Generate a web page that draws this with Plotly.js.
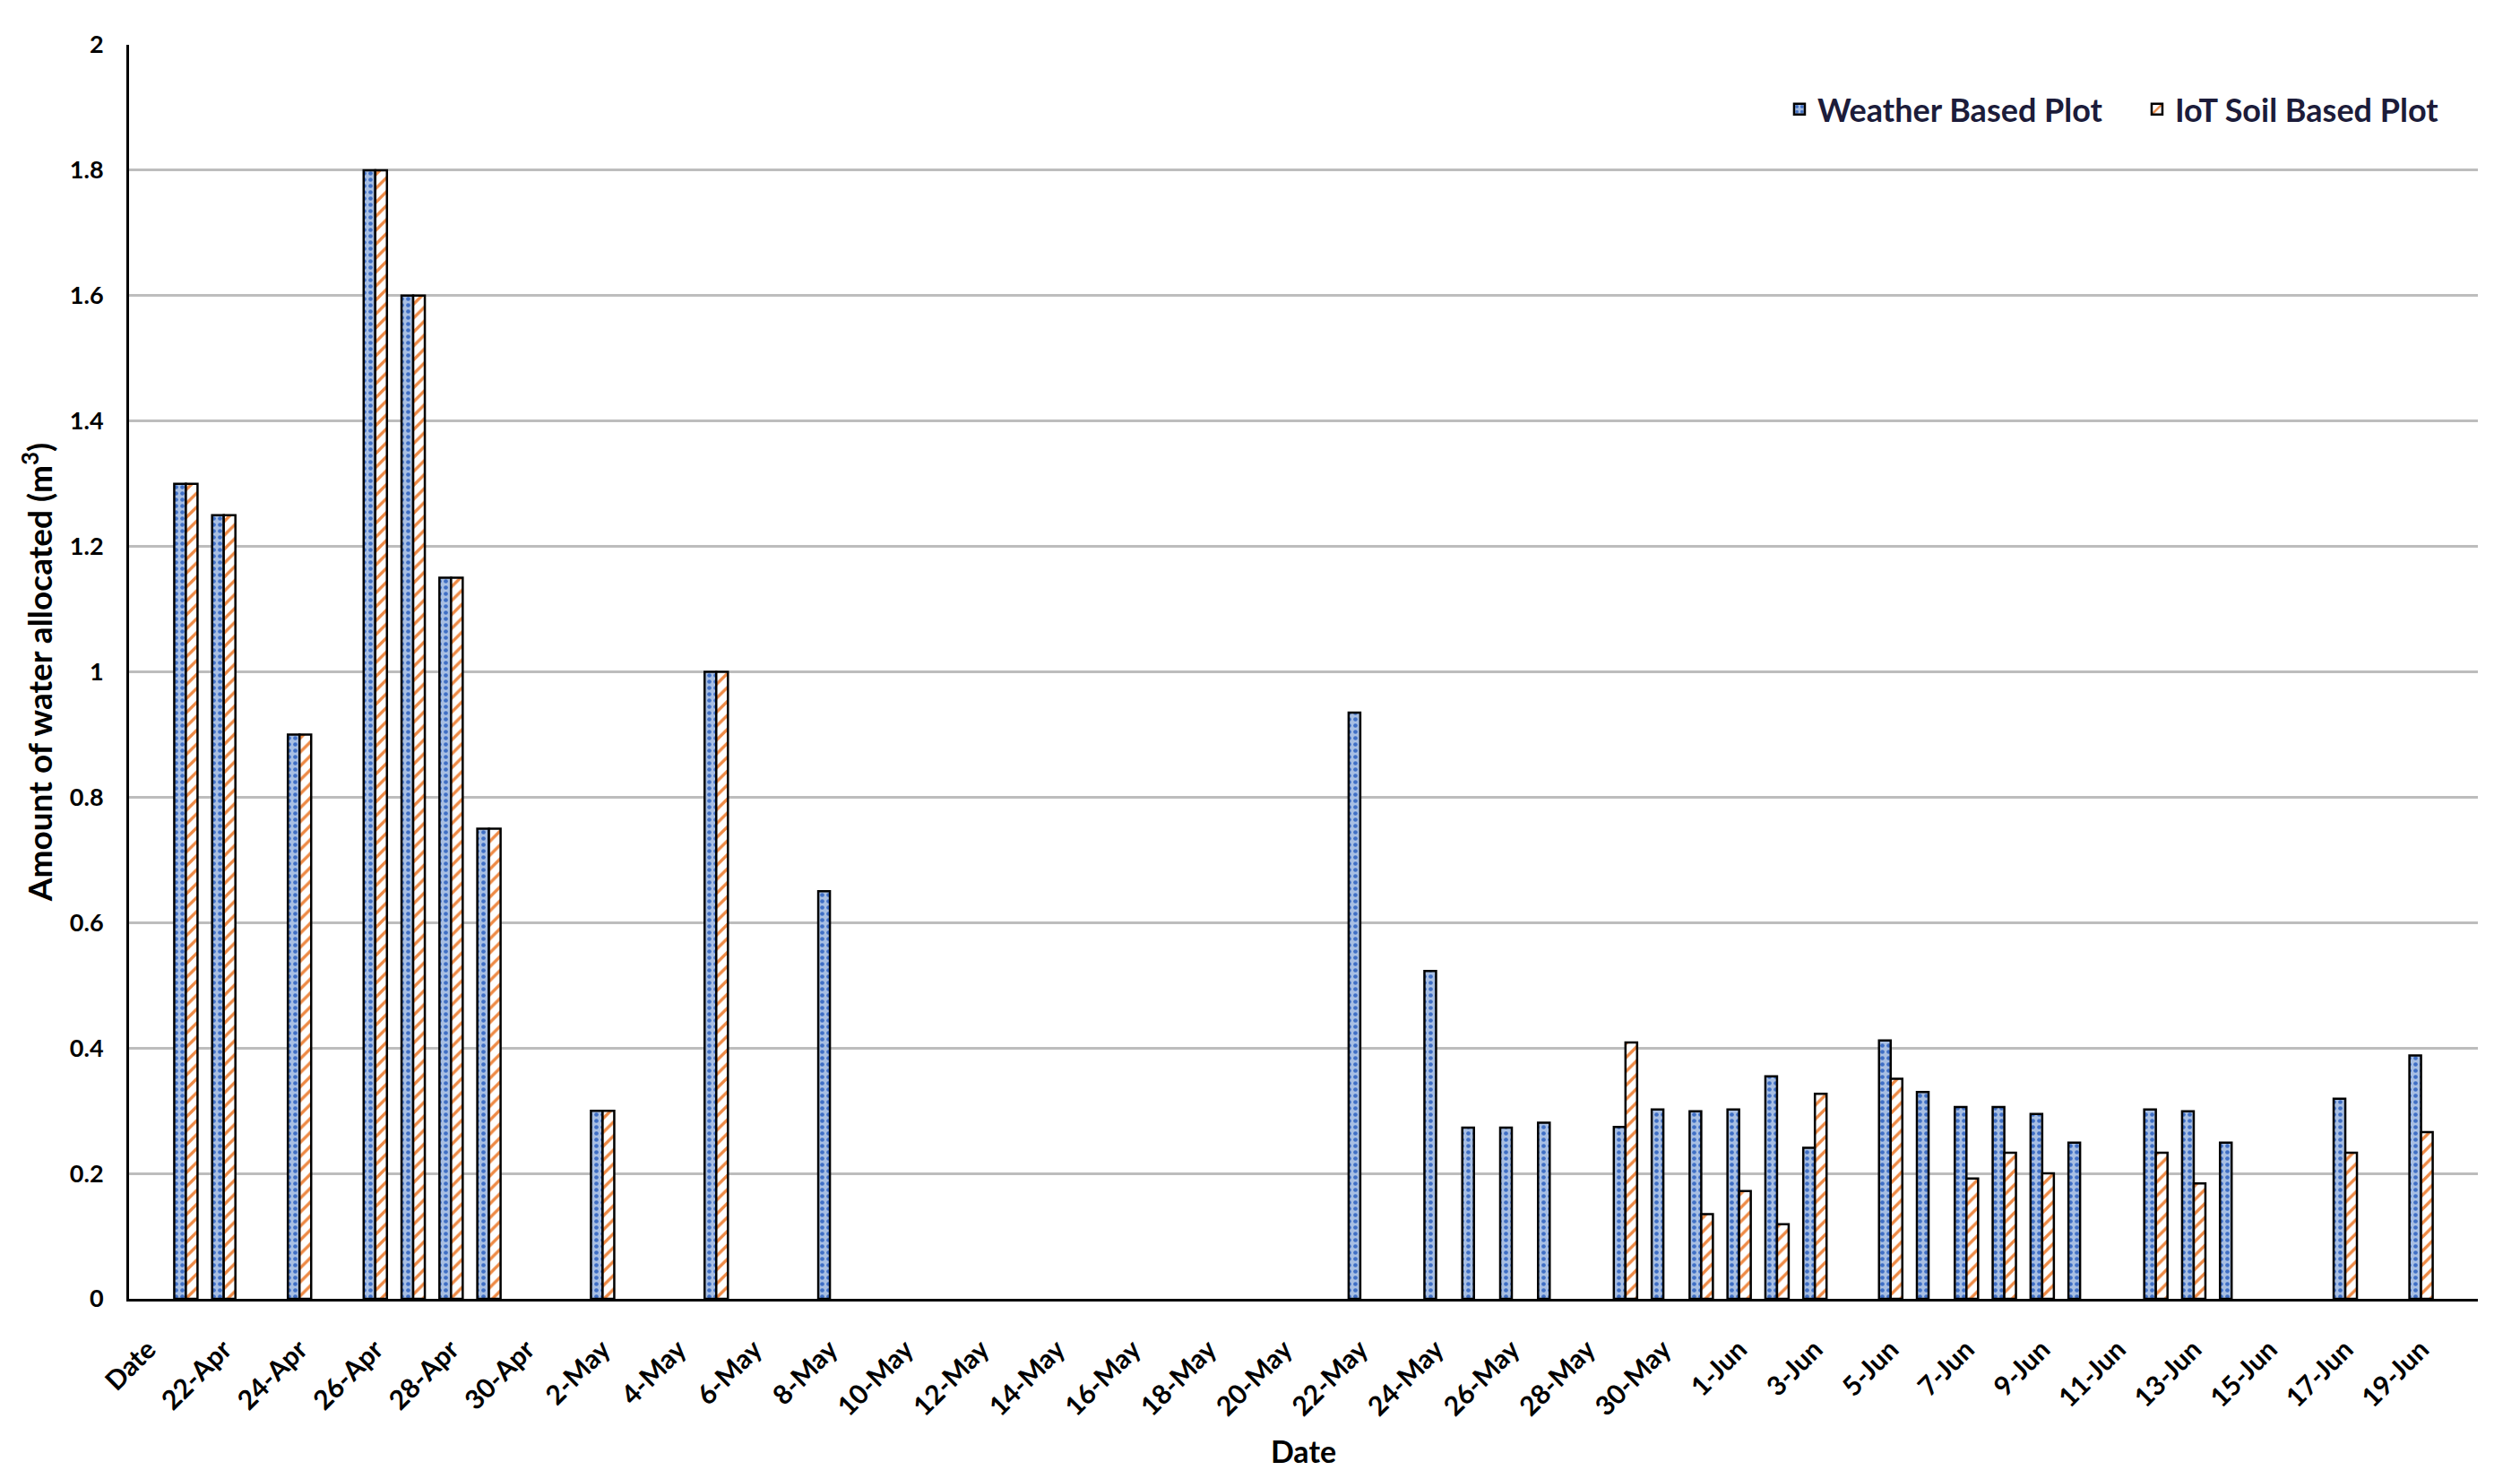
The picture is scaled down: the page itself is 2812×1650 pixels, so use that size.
<!DOCTYPE html>
<html>
<head>
<meta charset="utf-8">
<script src="https://cdn.plot.ly/plotly-3.0.1.min.js"></script>
<style>
  html, body { margin: 0; padding: 0; background: #fff; }
  #plot { width: 2812px; height: 1650px; }
</style>
</head>
<body>
<div id="plot"></div>
<script>
const categories = [
  'Date', '21-Apr', '22-Apr', '23-Apr', '24-Apr', '25-Apr', '26-Apr', '27-Apr', '28-Apr', '29-Apr', '30-Apr',
  '1-May', '2-May', '3-May', '4-May', '5-May', '6-May', '7-May', '8-May', '9-May', '10-May',
  '11-May', '12-May', '13-May', '14-May', '15-May', '16-May', '17-May', '18-May', '19-May', '20-May',
  '21-May', '22-May', '23-May', '24-May', '25-May', '26-May', '27-May', '28-May', '29-May', '30-May', '31-May',
  '1-Jun', '2-Jun', '3-Jun', '4-Jun', '5-Jun', '6-Jun', '7-Jun', '8-Jun', '9-Jun', '10-Jun',
  '11-Jun', '12-Jun', '13-Jun', '14-Jun', '15-Jun', '16-Jun', '17-Jun', '18-Jun', '19-Jun', '20-Jun'
];

// Weather Based Plot (m3)
const weatherValues = [
  null, 1.30, 1.25, null, 0.90, null, 1.80, 1.60, 1.15, 0.75, null,
  null, 0.30, null, null, 1.00, null, null, 0.65, null, null,
  null, null, null, null, null, null, null, null, null, null,
  null, 0.935, null, 0.523, 0.273, 0.273, 0.281, null, 0.274, 0.302, 0.299,
  0.302, 0.355, 0.241, null, 0.412, 0.330, 0.306, 0.306, 0.295, 0.249,
  null, 0.302, 0.299, 0.249, null, null, 0.319, null, 0.388, null
];

// IoT Soil Based Plot (m3)
const iotValues = [
  null, 1.30, 1.25, null, 0.90, null, 1.80, 1.60, 1.15, 0.75, null,
  null, 0.30, null, null, 1.00, null, null, null, null, null,
  null, null, null, null, null, null, null, null, null, null,
  null, null, null, null, null, null, null, null, 0.409, null, 0.135,
  0.172, 0.119, 0.327, null, 0.351, null, 0.192, 0.233, 0.200, null,
  null, 0.233, 0.184, null, null, null, 0.233, null, 0.266, null
];

const seriesNames = ['Weather Based Plot', 'IoT Soil Based Plot'];
const yTicks = [0, 0.2, 0.4, 0.6, 0.8, 1, 1.2, 1.4, 1.6, 1.8, 2];

// every other date gets a label, like the original sheet
const xTickVals = categories.filter((c, i) => i % 2 === 0);

const FONT = 'Lato, "Open Sans", sans-serif';

const traces = [
  {
    type: 'bar',
    name: seriesNames[0],
    x: categories,
    y: weatherValues,
    marker: {
      color: '#a8bfe3',
      line: { color: '#000', width: 2.5 },
      pattern: { shape: '.', fgcolor: '#3f6fc6', bgcolor: '#a8bfe3', size: 7, solidity: 0.35 }
    }
  },
  {
    type: 'bar',
    name: seriesNames[1],
    x: categories,
    y: iotValues,
    marker: {
      color: '#ffffff',
      line: { color: '#000', width: 2.5 },
      pattern: { shape: '/', fgcolor: '#ee8a45', bgcolor: '#ffffff', size: 11, solidity: 0.3 }
    }
  }
];

const layout = {
  width: 2812,
  height: 1650,
  paper_bgcolor: '#fff',
  plot_bgcolor: '#fff',
  font: { family: FONT, color: '#000' },
  barmode: 'group',
  bargap: 0.385,
  bargroupgap: 0,
  showlegend: true,
  margin: { l: 144, r: 47, t: 50, b: 201 },
  legend: {
    orientation: 'h',
    x: 1.008,
    xanchor: 'right',
    y: 0.9486,
    yanchor: 'middle',
    entrywidth: 354,
    entrywidthmode: 'pixels',
    font: { family: FONT, size: 36, color: '#1c1c3a', weight: 'bold' },
    bgcolor: 'rgba(0,0,0,0)'
  },
  xaxis: {
    type: 'category',
    categoryorder: 'array',
    categoryarray: categories,
    tickmode: 'array',
    tickvals: xTickVals,
    ticktext: xTickVals,
    tickangle: -45,
    tickfont: { family: FONT, size: 30, weight: 'bold', color: '#000' },
    ticks: 'outside',
    ticklen: 24,
    tickcolor: 'rgba(0,0,0,0)',
    showline: true,
    linecolor: '#000',
    linewidth: 3,
    showgrid: false,
    zeroline: false,
    title: { text: 'Date', font: { family: FONT, size: 34, weight: 'bold', color: '#000' }, standoff: 24 }
  },
  yaxis: {
    range: [0, 2],
    tickmode: 'array',
    tickvals: yTicks,
    ticktext: yTicks.map(String),
    tickfont: { family: FONT, size: 27, weight: 'bold', color: '#000' },
    ticks: 'outside',
    ticklen: 20,
    tickcolor: 'rgba(0,0,0,0)',
    showline: true,
    linecolor: '#000',
    linewidth: 3,
    showgrid: true,
    gridcolor: '#bdbdbd',
    gridwidth: 3,
    zeroline: false,
    title: { text: 'Amount of water allocated (m<sup>3</sup>)', font: { family: FONT, size: 37, weight: 'bold', color: '#000' }, standoff: 8 }
  }
};

Plotly.newPlot('plot', traces, layout, { displayModeBar: false, staticPlot: true });
</script>
</body>
</html>
